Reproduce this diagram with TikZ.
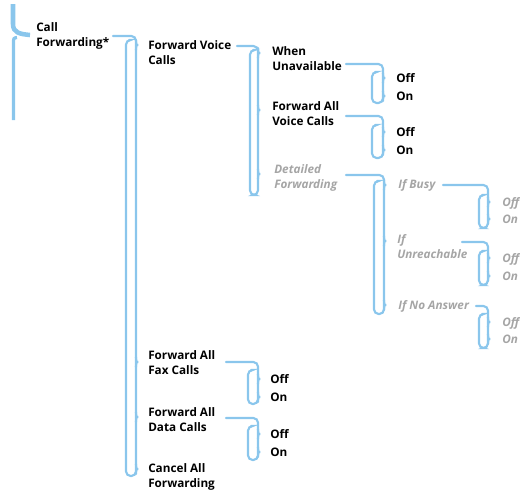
\documentclass[tikz,border=0pt]{standalone}
\usepackage{fontspec}
\setmainfont{Open Sans}
\definecolor{lineblue}{RGB}{138,198,236}
\definecolor{greytext}{RGB}{165,165,165}
\newcommand{\menubracket}[7]{%
  \draw[br] (#1) -| (#2,#5) -| (#3,#4) -- ++(3,0);
  \foreach \t in {#6} {
    \draw[br] (#2,\t-5) .. controls (#2,\t-1) and (#2+1,\t) .. (#2+5,\t)
                        .. controls (#2+1,\t) and (#2,\t+1) .. (#2,\t+5);
  }
  #7%
}
\begin{document}
\begin{tikzpicture}[x=0.75pt,y=-0.75pt,
  br/.style={draw=lineblue,line width=1.6pt,rounded corners=3.5pt,line cap=round},
  itemb/.style={anchor=base west,inner sep=0pt,align=left,font=\fontsize{8.8}{11.25}\selectfont\bfseries,text=black},
  itemg/.style={anchor=base west,inner sep=0pt,align=left,font=\fontsize{8.8}{11.25}\selectfont\bfseries\itshape,text=greytext}]
\useasboundingbox (0,0) rectangle (520,490);
\clip (0,0) rectangle (520,490);
% top-left brace
\draw[draw=lineblue,line width=3.4pt] (13,4) -- (13,24) .. controls (13,33) and (20,34) .. (30,35);
\draw[draw=lineblue,line width=2.4pt] (17,37.5) .. controls (13.5,38) .. (13.5,44) -- (13.5,120);
% nodes (base = baseline of last line)
\node[itemb] (cf) at (36,46) {Call\\Forwarding*};
\node[itemb] (fvc) at (148,64) {Forward Voice\\Calls};
\node[itemb] (fax) at (148,374) {Forward All\\Fax Calls};
\node[itemb] (data) at (148,431) {Forward All\\Data Calls};
\node[itemb] (cancel) at (148,487) {Cancel All\\Forwarding};
\node[itemb] (wu) at (272,70) {When\\Unavailable};
\node[itemb] (fav) at (272,125) {Forward All\\Voice Calls};
\node[itemg] (df) at (274,188) {Detailed\\Forwarding};
\node[itemg] (ib) at (398,188) {If Busy};
\node[itemg] (iu) at (397,258) {If\\Unreachable};
\node[itemg] (ina) at (398,309) {If No Answer};
\node[itemb] (wuoff) at (396,82) {Off};
\node[itemb] (wuon) at (396,100) {On};
\node[itemb] (favoff) at (396,136) {Off};
\node[itemb] (favon) at (396,154) {On};
\node[itemb] (faxoff) at (270,383) {Off};
\node[itemb] (faxon) at (270,401) {On};
\node[itemb] (dataoff) at (270,438) {Off};
\node[itemb] (dataon) at (270,456) {On};
\node[itemg] (iboff) at (502,206) {Off};
\node[itemg] (ibon) at (502,223) {On};
\node[itemg] (iuoff) at (502,262) {Off};
\node[itemg] (iuon) at (502,280) {On};
\node[itemg] (inaoff) at (502,326) {Off};
\node[itemg] (inaon) at (502,343) {On};
% connector start points
\coordinate (cf-out) at (113,36);
\coordinate (fvc-out) at (237,46);
\coordinate (wu-out) at (346,64);
\coordinate (fav-out) at (346,116);
\coordinate (df-out) at (346,175);
\coordinate (ib-out) at (443,185);
\coordinate (iu-out) at (462,242);
\coordinate (ina-out) at (476,306);
\coordinate (fax-out) at (226,362);
\coordinate (data-out) at (226,418);
% brackets: start, xr, xl, left top, bottom, tips
\menubracket{cf-out}{136}{126}{40}{476}{45,362,417,469}{}
\menubracket{fvc-out}{258}{250}{50}{195}{53,110,174}{}
\menubracket{wu-out}{383}{372}{72}{103}{78,96}{}
\menubracket{fav-out}{383}{372}{125}{158}{132,150}{}
\menubracket{df-out}{384}{374}{181}{314}{185,241,305}{}
\menubracket{ib-out}{488}{479}{195}{228}{202,219}{}
\menubracket{iu-out}{488}{479}{251}{285}{258,276}{}
\menubracket{ina-out}{488}{479}{314}{348}{322,339}{}
\menubracket{fax-out}{258}{248}{370}{404}{379,397}{}
\menubracket{data-out}{258}{248}{426}{460}{434,452}{}
\end{tikzpicture}
\end{document}
